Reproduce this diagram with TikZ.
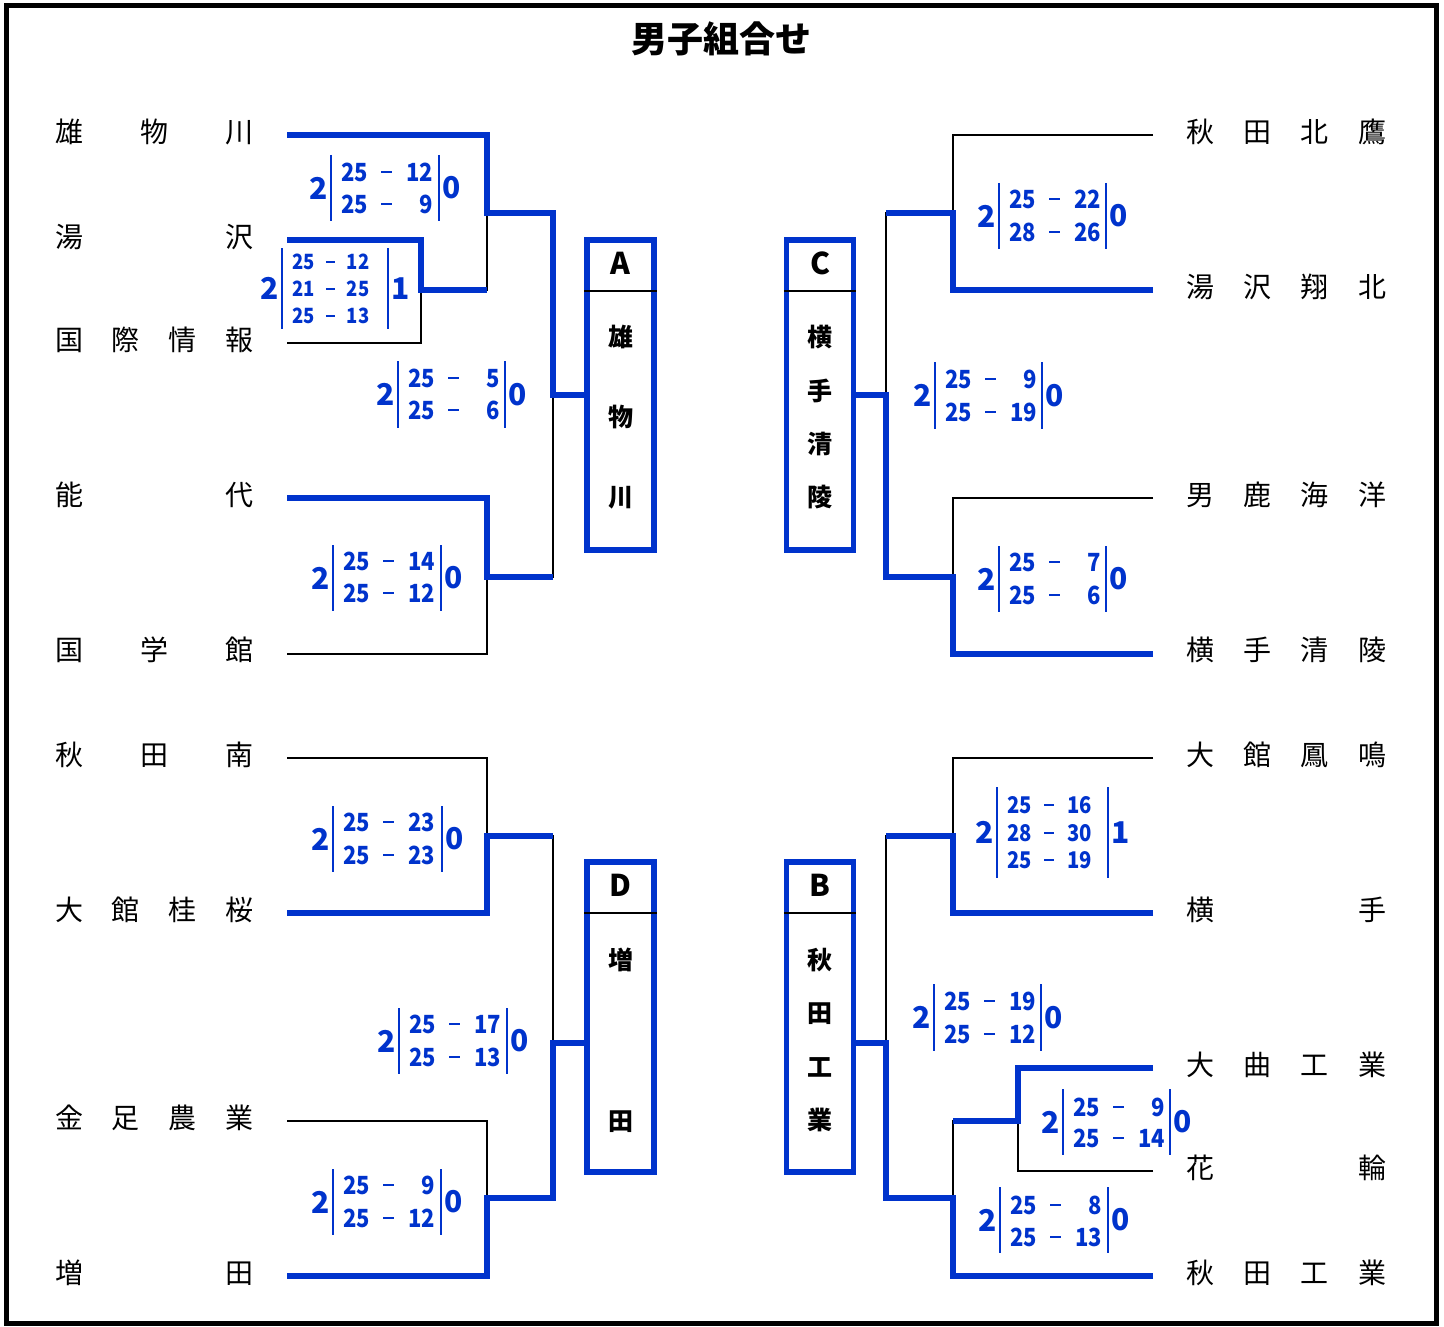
\documentclass[tikz,border=0pt]{standalone}
\usepackage{graphicx}
\usepackage{fontspec}
\newfontfamily\jp{Noto Sans CJK JP}
\definecolor{bblue}{RGB}{0,51,204}
\newcommand\scoreline[2]{\scalebox{0.88}[1]{\phantom{00}\llap{#1}\hspace{0.6em}\rule[0.32em]{0.48em}{0.09em}\hspace{0.66em}\phantom{00}\llap{#2}}}
\newcommand\scorebox[9]{%
  \draw[scorebar] (#2,#4) -- (#2,#5);
  \draw[scorebar] (#3,#4) -- (#3,#5);
  \node[bignum, anchor=east] (#1l) at ({#2-3.5},{(#4+#5)/2}) {#6};
  \node[bignum, anchor=west] (#1r) at ({#3+3.5},{(#4+#5)/2}) {#7};
  \foreach \yy/\a/\b [count=\k] in {#9} {
    \node[scoretxt, font=\jp\bfseries\fontsize{#8}{#8}\selectfont, anchor=west] (#1s\k) at ({#2+10},\yy) {\scoreline{\a}{\b}};
  }%
}
\newcommand\team[6]{%
  \foreach \c [count=\i] in {#6} {
    \node[teamtxt] (#1c\i) at ({#2+(\i-1)*(#3-#2)/(#5-1)},#4) {\c};
  }%
}
\tikzset{
  win/.style={draw=bblue, line width=6.5pt},
  lose/.style={draw=black, line width=2.5pt},
  scorebar/.style={draw=bblue, line width=2.5pt},
  bignum/.style={font=\jp\bfseries\fontsize{30}{30}\selectfont, text=bblue, inner sep=0pt},
  scoretxt/.style={text=bblue, inner sep=0pt},
  teamtxt/.style={font=\jp\fontsize{28}{30}\selectfont, inner sep=0pt, text height=23.2pt, text depth=2pt},
  resbox/.style={draw=bblue, line width=5.5pt, minimum width=67pt, minimum height=310pt, inner sep=0pt},
  boxlet/.style={font=\jp\bfseries\fontsize{30}{32}\selectfont, inner sep=0pt},
  boxch/.style={font=\jp\bfseries\fontsize{25}{27}\selectfont, inner sep=0pt, text height=20.75pt, text depth=1.75pt},
  divider/.style={draw=black, line width=1.5pt},
  titletxt/.style={font=\jp\bfseries\fontsize{36}{38}\selectfont, inner sep=0pt}
}
\begin{document}
\begin{tikzpicture}[x=1pt,y=-1pt]
\useasboundingbox (0,0) rectangle (1444,1327);
\draw[line width=5pt] (6,6) rectangle (1436,1323);
\node[titletxt] (title) at (721,39) {男子組合せ};

% team names
\team{nL1}{69}{239}{132}{3}{雄,物,川}
\team{nL2}{69}{239}{237}{2}{湯,沢}
\team{nL3}{69}{239}{340}{4}{国,際,情,報}
\team{nL4}{69}{239}{495}{2}{能,代}
\team{nL5}{69}{239}{650}{3}{国,学,館}
\team{nL6}{69}{239}{755}{3}{秋,田,南}
\team{nL7}{69}{239}{910}{4}{大,館,桂,桜}
\team{nL8}{69}{239}{1118}{4}{金,足,農,業}
\team{nL9}{69}{239}{1273}{2}{増,田}
\team{nR1}{1200}{1372}{132}{4}{秋,田,北,鷹}
\team{nR2}{1200}{1372}{287}{4}{湯,沢,翔,北}
\team{nR3}{1200}{1372}{495}{4}{男,鹿,海,洋}
\team{nR4}{1200}{1372}{650}{4}{横,手,清,陵}
\team{nR5}{1200}{1372}{755}{4}{大,館,鳳,鳴}
\team{nR6}{1200}{1372}{910}{2}{横,手}
\team{nR7}{1200}{1372}{1065}{4}{大,曲,工,業}
\team{nR8}{1200}{1372}{1168}{2}{花,輪}
\team{nR9}{1200}{1372}{1273}{4}{秋,田,工,業}

% result boxes
\node[resbox] (A) at (620.5,395) {};
\node[resbox] (C) at (820,395) {};
\node[resbox] (D) at (620.5,1017) {};
\node[resbox] (B) at (820,1017) {};
\draw[divider] (A.west |- 0,291) -- (A.east |- 0,291);
\draw[divider] (C.west |- 0,291) -- (C.east |- 0,291);
\draw[divider] (D.west |- 0,913) -- (D.east |- 0,913);
\draw[divider] (B.west |- 0,913) -- (B.east |- 0,913);
\node[boxlet] (Alet) at (620.5,263) {A};
\node[boxlet] (Clet) at (820,263) {C};
\node[boxlet] (Dlet) at (620.5,885) {D};
\node[boxlet] (Blet) at (820,885) {B};
\node[boxch] (Ac1) at (620.5,337) {雄};
\node[boxch] (Ac2) at (620.5,417) {物};
\node[boxch] (Ac3) at (620.5,497) {川};
\node[boxch] (Cc1) at (820,337) {横};
\node[boxch] (Cc2) at (820,391) {手};
\node[boxch] (Cc3) at (820,444) {清};
\node[boxch] (Cc4) at (820,497) {陵};
\node[boxch] (Dc1) at (620.5,960) {増};
\node[boxch] (Dc2) at (620.5,1121) {田};
\node[boxch] (Bc1) at (820,960) {秋};
\node[boxch] (Bc2) at (820,1013) {田};
\node[boxch] (Bc3) at (820,1067) {工};
\node[boxch] (Bc4) at (820,1120) {業};

% line ends and junctions
\coordinate (L1) at (287,135);
\coordinate (L2) at (287,240);
\coordinate (L3) at (287,343);
\coordinate (L4) at (287,498);
\coordinate (L5) at (287,654);
\coordinate (L6) at (287,758);
\coordinate (L7) at (287,913);
\coordinate (L8) at (287,1121);
\coordinate (L9) at (287,1276);
\coordinate (R1) at (1153,135);
\coordinate (R2) at (1153,290);
\coordinate (R3) at (1153,498);
\coordinate (R4) at (1153,654);
\coordinate (R5) at (1153,758);
\coordinate (R6) at (1153,913);
\coordinate (R7) at (1153,1068);
\coordinate (R8) at (1153,1171);
\coordinate (R9) at (1153,1276);
\coordinate (jL1) at (421,290);
\coordinate (jL2) at (487,213);
\coordinate (jL3) at (487,577);
\coordinate (sA) at (553,395);
\coordinate (jL4) at (487,836);
\coordinate (jL5) at (487,1198);
\coordinate (sD) at (553,1043);
\coordinate (jR1) at (953,213);
\coordinate (jR2) at (953,577);
\coordinate (sC) at (886,395);
\coordinate (jR3) at (953,836);
\coordinate (jR4) at (1018,1121);
\coordinate (jR5) at (953,1198);
\coordinate (sB) at (886,1043);

% losing branches
\draw[lose] (L3) -| (jL1);
\draw[lose] (jL1) -| (jL2);
\draw[lose] (L5) -| (jL3);
\draw[lose] (jL3) -| (sA);
\draw[lose] (L6) -| (jL4);
\draw[lose] (L8) -| (jL5);
\draw[lose] (jL4) -| (sD);
\draw[lose] (R1) -| (jR1);
\draw[lose] (jR1) -| (sC);
\draw[lose] (R3) -| (jR2);
\draw[lose] (R5) -| (jR3);
\draw[lose] (jR3) -| (sB);
\draw[lose] (R8) -| (jR4);
\draw[lose] (jR4) -| (jR5);

% winning branches
\draw[win] (L1) -| (jL2) -| (sA) -- (A.west |- sA);
\draw[win] (L2) -| (jL1) -- (jL2 |- jL1);
\draw[win] (L4) -| (jL3) -- (sA |- jL3);
\draw[win] (L7) -| (jL4) -- (sD |- jL4);
\draw[win] (L9) -| (jL5) -| (sD) -- (D.west |- sD);
\draw[win] (R2) -| (jR1) -- (sC |- jR1);
\draw[win] (R4) -| (jR2) -| (sC) -- (C.east |- sC);
\draw[win] (R6) -| (jR3) -- (sB |- jR3);
\draw[win] (R7) -| (jR4) -- (jR5 |- jR4);
\draw[win] (R9) -| (jR5) -| (sB) -- (B.east |- sB);

% scores
\scorebox{s1}{331}{439}{155}{221}{2}{0}{25}{172/25/12, 204/25/9}
\scorebox{s2}{282}{388}{248}{329}{2}{1}{21}{262/25/12, 289/21/25, 316/25/13}
\scorebox{s3}{398}{505}{361}{428}{2}{0}{25}{378/25/5, 410/25/6}
\scorebox{s4}{333}{441}{545}{611}{2}{0}{25}{561/25/14, 593/25/12}
\scorebox{s5}{999}{1106}{183}{249}{2}{0}{25}{199/25/22, 232/28/26}
\scorebox{s6}{935}{1042}{362}{429}{2}{0}{25}{379/25/9, 412/25/19}
\scorebox{s7}{999}{1106}{546}{612}{2}{0}{25}{562/25/7, 595/25/6}
\scorebox{s8}{333}{442}{806}{872}{2}{0}{25}{822/25/23, 855/25/23}
\scorebox{s9}{399}{507}{1008}{1074}{2}{0}{25}{1024/25/17, 1057/25/13}
\scorebox{s10}{333}{441}{1169}{1235}{2}{0}{25}{1185/25/9, 1218/25/12}
\scorebox{s11}{997}{1108}{787}{878}{2}{1}{23}{805/25/16, 833/28/30, 860/25/19}
\scorebox{s12}{934}{1041}{984}{1051}{2}{0}{25}{1001/25/19, 1034/25/12}
\scorebox{s13}{1063}{1170}{1089}{1155}{2}{0}{25}{1107/25/9, 1138/25/14}
\scorebox{s14}{1000}{1108}{1187}{1253}{2}{0}{25}{1205/25/8, 1237/25/13}
\end{tikzpicture}
\end{document}
